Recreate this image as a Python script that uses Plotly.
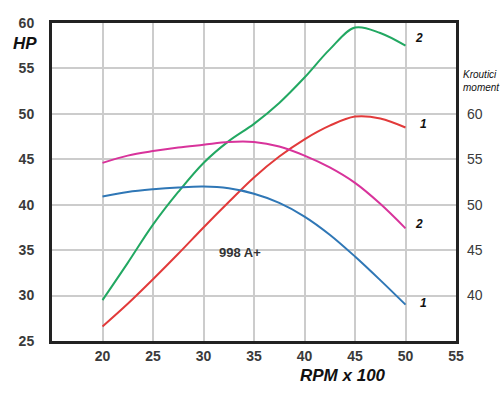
import plotly.graph_objects as go

# Data
rpm_pts = [20, 22.5, 25, 27.5, 30, 32.5, 35, 37.5, 40, 42.5, 45, 47.5, 50]
hp_2 = [29.5, 33.6, 37.8, 41.4, 44.6, 47.0, 48.9, 51.2, 54.0, 57.1, 59.5, 58.9, 57.5]
hp_1 = [26.6, 29.1, 31.8, 34.6, 37.5, 40.3, 43.0, 45.3, 47.2, 48.7, 49.7, 49.5, 48.5]
torque_2 = [54.6, 55.4, 55.9, 56.3, 56.6, 56.9, 56.9, 56.4, 55.4, 54.1, 52.4, 50.1, 47.4]
torque_1 = [50.9, 51.4, 51.7, 51.9, 52.0, 51.8, 51.2, 50.2, 48.7, 46.7, 44.3, 41.7, 39.0]

x_ticks = [20, 25, 30, 35, 40, 45, 50, 55]
y_ticks = [25, 30, 35, 40, 45, 50, 55, 60]
y2_ticks = [40, 45, 50, 55, 60]

green = "#22a862"
red = "#e23a3a"
magenta = "#d8339b"
blue = "#2f77b6"
tickfont = dict(family="Liberation Sans, Arial", size=14, color="#3a3a3a", weight="bold")

fig = go.Figure()
sm = 1.0
fig.add_trace(go.Scatter(x=rpm_pts, y=hp_2, mode="lines", line=dict(color=green, width=2, shape="spline", smoothing=sm)))
fig.add_trace(go.Scatter(x=rpm_pts, y=hp_1, mode="lines", line=dict(color=red, width=2, shape="spline", smoothing=sm)))
fig.add_trace(go.Scatter(x=rpm_pts, y=torque_2, mode="lines", yaxis="y2", line=dict(color=magenta, width=2, shape="spline", smoothing=sm)))
fig.add_trace(go.Scatter(x=rpm_pts, y=torque_1, mode="lines", yaxis="y2", line=dict(color=blue, width=2, shape="spline", smoothing=sm)))

lbl = dict(family="Liberation Sans, Arial", size=12, color="#111", weight="bold", style="italic")
ann = [
    dict(x=50.7, y=58.4, xref="x", yref="y", text="2", showarrow=False, font=lbl, xanchor="left"),
    dict(x=51.2, y=48.9, xref="x", yref="y", text="1", showarrow=False, font=lbl, xanchor="left"),
    dict(x=50.7, y=37.9, xref="x", yref="y", text="2", showarrow=False, font=lbl, xanchor="left"),
    dict(x=51.2, y=29.2, xref="x", yref="y", text="1", showarrow=False, font=lbl, xanchor="left"),
    dict(x=33.6, y=34.7, xref="x", yref="y", text="998 A+", showarrow=False,
         font=dict(family="Liberation Sans, Arial", size=13, color="#333", weight="bold")),
    dict(x=-0.067, y=0.934, xref="paper", yref="paper", text="HP", showarrow=False,
         xanchor="center", yanchor="middle",
         font=dict(family="Liberation Sans, Arial", size=17, color="#111", weight="bold", style="italic")),
    dict(x=0.72, y=-0.107, xref="paper", yref="paper", text="RPM x 100", showarrow=False,
         xanchor="center", yanchor="middle",
         font=dict(family="Liberation Sans, Arial", size=17, color="#111", weight="bold", style="italic")),
    dict(x=1.012, y=0.818, xref="paper", yref="paper", text="Kroutici<br>moment", showarrow=False,
         xanchor="left", yanchor="middle", align="left",
         font=dict(family="Liberation Sans, Arial", size=10, color="#111", style="italic")),
]

fig.update_layout(
    width=500, height=394,
    margin=dict(l=52, r=44, t=23, b=53),
    paper_bgcolor="white", plot_bgcolor="white",
    showlegend=False,
    annotations=ann,
    xaxis=dict(range=[15, 55], tickvals=x_ticks, showgrid=True, gridcolor="#cccccc", gridwidth=1.5,
               showline=True, linecolor="#222", linewidth=3, mirror=True, zeroline=False,
               tickfont=tickfont, ticklabelstandoff=0),
    yaxis=dict(range=[25, 60], tickvals=y_ticks, showgrid=True, gridcolor="#cccccc", gridwidth=1.5,
               showline=True, linecolor="#222", linewidth=3, mirror=True, zeroline=False,
               tickfont=tickfont, ticklabelstandoff=12),
    yaxis2=dict(range=[35, 70], tickvals=y2_ticks, overlaying="y", side="right", showgrid=False,
                zeroline=False, showline=False,
                tickfont=dict(family="Liberation Sans, Arial", size=14, color="#3a3a3a"),
                ticklabelstandoff=10),
)

fig.write_html("out.html", config={"displayModeBar": False},
               post_script="document.body.style.margin='0';")
